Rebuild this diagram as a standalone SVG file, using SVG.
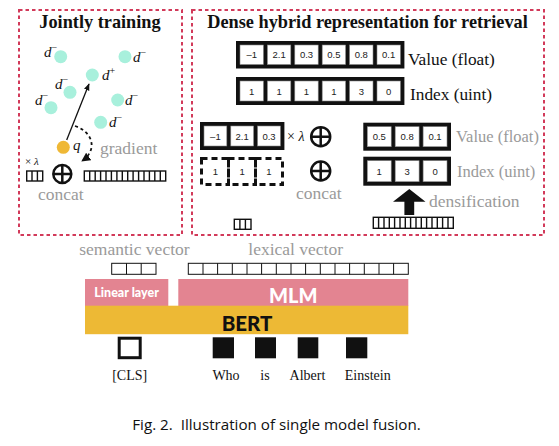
<svg xmlns="http://www.w3.org/2000/svg" width="559" height="446" viewBox="0 0 559 446">
<style>
.panel{fill:none;stroke:#d23a5a;stroke-width:2;stroke-dasharray:3.5,3}
.title{font-family:"Liberation Serif",serif;font-weight:bold;font-size:18.3px;fill:#111}
.lbl{font-family:"Liberation Serif",serif;font-size:17.3px;fill:#111}
.gray{font-family:"Liberation Serif",serif;font-size:17.5px;fill:#9a9a9a}
.gray2{font-family:"Liberation Serif",serif;font-size:16.5px;fill:#9a9a9a}
.dl{font-family:"Liberation Serif",serif;font-style:italic;font-size:15px;fill:#111}
.sup{font-size:10px;font-style:normal}
.num{font-family:"Liberation Sans",sans-serif;font-size:9.5px;fill:#222;text-anchor:middle}
.cellbg{fill:#111}
.cell{fill:#fff;stroke:#888;stroke-width:0.6}
.vec{fill:#fff;stroke:#111;stroke-width:1.4}
.vecl{stroke:#111;stroke-width:1.4;fill:none}
.vec2{fill:#fff;stroke:#111;stroke-width:1}
.vecl2{stroke:#111;stroke-width:1;fill:none}
.doc{fill:#a8f0dc}
.plus{fill:none;stroke:#111;stroke-width:2.5}
.tok{font-family:"Liberation Serif",serif;font-size:14px;fill:#111;text-anchor:middle}
</style>
<defs>
<marker id="ah" viewBox="0 0 10 10" refX="9" refY="5" markerWidth="7" markerHeight="7" orient="auto-start-reverse" markerUnits="userSpaceOnUse">
<path d="M0,1 L10,5 L0,9 z" fill="#111"/>
</marker>
<marker id="ah2" viewBox="0 0 10 10" refX="9" refY="5" markerWidth="9" markerHeight="9" orient="auto" markerUnits="userSpaceOnUse">
<path d="M0,0 L10,5 L0,10 z" fill="#111"/>
</marker>
</defs>
<rect width="559" height="446" fill="#fff"/>

<g id="panel-joint">
<rect class="panel" x="19" y="10" width="163" height="225"/>
<text class="title" x="100" y="28" text-anchor="middle">Jointly training</text>
<circle class="doc" cx="60.7" cy="56.7" r="6.5"/>
<text class="dl" x="44" y="57">d<tspan class="sup" dy="-6">−</tspan></text>
<circle class="doc" cx="125" cy="56.7" r="6.5"/>
<text class="dl" x="133" y="62">d<tspan class="sup" dy="-6">−</tspan></text>
<circle class="doc" cx="92.3" cy="75" r="6.5"/>
<text class="dl" x="102" y="80">d<tspan class="sup" dy="-6">+</tspan></text>
<circle class="doc" cx="70" cy="92.3" r="6.5"/>
<text class="dl" x="55" y="89">d<tspan class="sup" dy="-6">−</tspan></text>
<circle class="doc" cx="51" cy="107.7" r="6.5"/>
<text class="dl" x="35" y="105">d<tspan class="sup" dy="-6">−</tspan></text>
<circle class="doc" cx="117.7" cy="100" r="6.5"/>
<text class="dl" x="125" y="105">d<tspan class="sup" dy="-6">−</tspan></text>
<circle class="doc" cx="100.7" cy="122.3" r="6.5"/>
<text class="dl" x="109" y="127">d<tspan class="sup" dy="-6">−</tspan></text>
<circle cx="63.3" cy="147.3" r="6.5" fill="#efb836"/>
<text class="dl" x="73" y="150">q</text>
<text class="gray" x="100" y="154">gradient</text>
<text x="25" y="165" font-family="Liberation Serif,serif" font-size="11" fill="#111">× <tspan font-style="italic">λ</tspan></text>
<rect class="vec" x="26.7" y="171" width="16" height="10"/>
<path class="vecl" d="M32,171V181M37.4,171V181"/>
<circle class="plus" cx="62.3" cy="174" r="9"/>
<path class="plus" d="M53.3,174H71.3M62.3,165V183"/>
<rect class="vec" x="84.3" y="171" width="81.4" height="10"/>
<path class="vecl" d="M89.7,171V181M95.2,171V181M100.6,171V181M106,171V181M111.4,171V181M116.9,171V181M122.3,171V181M127.7,171V181M133.1,171V181M138.6,171V181M144,171V181M149.4,171V181M154.8,171V181M160.3,171V181"/>
<text class="gray" x="38" y="200">concat</text>
</g>

<g id="panel-dense">
<rect class="panel" x="192" y="10" width="352" height="225"/>
<text class="title" x="367.5" y="28" text-anchor="middle">Dense hybrid representation for retrieval</text>
<g id="value-row">
<rect class="cellbg" x="236" y="41" width="168.4" height="27.5"/>
<rect class="cell" x="240" y="45" width="23.4" height="19.5"/>
<rect class="cell" x="267.4" y="45" width="23.4" height="19.5"/>
<rect class="cell" x="294.8" y="45" width="23.4" height="19.5"/>
<rect class="cell" x="322.2" y="45" width="23.4" height="19.5"/>
<rect class="cell" x="349.6" y="45" width="23.4" height="19.5"/>
<rect class="cell" x="377" y="45" width="23.4" height="19.5"/>
<text class="num" x="251.7" y="58.3">–1</text>
<text class="num" x="279.1" y="58.3">2.1</text>
<text class="num" x="306.5" y="58.3">0.3</text>
<text class="num" x="333.9" y="58.3">0.5</text>
<text class="num" x="361.3" y="58.3">0.8</text>
<text class="num" x="388.7" y="58.3">0.1</text>
<text class="lbl" x="408" y="65">Value (float)</text>
</g>
<g id="index-row">
<rect class="cellbg" x="236" y="77" width="168.4" height="28"/>
<rect class="cell" x="240" y="81" width="23.4" height="20"/>
<rect class="cell" x="267.4" y="81" width="23.4" height="20"/>
<rect class="cell" x="294.8" y="81" width="23.4" height="20"/>
<rect class="cell" x="322.2" y="81" width="23.4" height="20"/>
<rect class="cell" x="349.6" y="81" width="23.4" height="20"/>
<rect class="cell" x="377" y="81" width="23.4" height="20"/>
<text class="num" x="251.7" y="94.5">1</text>
<text class="num" x="279.1" y="94.5">1</text>
<text class="num" x="306.5" y="94.5">1</text>
<text class="num" x="333.9" y="94.5">1</text>
<text class="num" x="361.3" y="94.5">3</text>
<text class="num" x="388.7" y="94.5">0</text>
<text class="lbl" x="410" y="100">Index (uint)</text>
</g>
<g id="semantic-part">
<rect class="cellbg" x="200" y="122" width="84.4" height="28"/>
<rect class="cell" x="204" y="126" width="22.8" height="20"/>
<rect class="cell" x="230.8" y="126" width="22.8" height="20"/>
<rect class="cell" x="257.6" y="126" width="22.8" height="20"/>
<text class="num" x="215.4" y="139.5">–1</text>
<text class="num" x="242.2" y="139.5">2.1</text>
<text class="num" x="269" y="139.5">0.3</text>
<text x="287" y="141" font-family="Liberation Serif,serif" font-size="14" fill="#111">× <tspan font-style="italic">λ</tspan></text>
<g fill="none" stroke="#111" stroke-width="3" stroke-dasharray="6,4">
<rect x="201.5" y="158.5" width="27" height="26"/>
<rect x="228.5" y="158.5" width="27" height="26"/>
<rect x="255.5" y="158.5" width="27" height="26"/>
</g>
<text class="num" x="215.4" y="175">1</text>
<text class="num" x="242.2" y="175">1</text>
<text class="num" x="269" y="175">1</text>
<rect class="vec" x="234.3" y="219.3" width="16.7" height="10"/>
<path class="vecl" d="M239.9,219.3V229.3M245.4,219.3V229.3"/>
</g>
<circle class="plus" cx="320.7" cy="136.7" r="9.5"/>
<path class="plus" d="M311.2,136.7H330.2M320.7,127.2V146.2"/>
<circle class="plus" cx="320.7" cy="171" r="9.5"/>
<path class="plus" d="M311.2,171H330.2M320.7,161.5V180.5"/>
<text class="gray" x="296" y="199">concat</text>
<g id="lexical-part">
<rect class="cellbg" x="363.3" y="122.7" width="87.7" height="28"/>
<rect class="cell" x="367.3" y="126.7" width="23.9" height="20"/>
<rect class="cell" x="395.2" y="126.7" width="23.9" height="20"/>
<rect class="cell" x="423.1" y="126.7" width="23.9" height="20"/>
<text class="num" x="379.25" y="140">0.5</text>
<text class="num" x="407.15" y="140">0.8</text>
<text class="num" x="435.05" y="140">0.1</text>
<text class="gray2" x="456" y="142">Value (float)</text>
<rect class="cellbg" x="363.3" y="156.7" width="87.7" height="29"/>
<rect class="cell" x="367.3" y="160.7" width="23.9" height="21"/>
<rect class="cell" x="395.2" y="160.7" width="23.9" height="21"/>
<rect class="cell" x="423.1" y="160.7" width="23.9" height="21"/>
<text class="num" x="379.25" y="174.6">1</text>
<text class="num" x="407.15" y="174.6">3</text>
<text class="num" x="435.05" y="174.6">0</text>
<text class="gray2" x="457" y="177">Index (uint)</text>
<path d="M409.3,189 L425.5,201.7 L414.2,201.7 L414.2,215 L404.4,215 L404.4,201.7 L393,201.7 Z" fill="#111"/>
<text class="gray" x="429" y="207">densification</text>
<rect class="vec" x="373.3" y="217.3" width="80" height="11"/>
<path class="vecl" d="M378.6,217.3V228.3M384,217.3V228.3M389.3,217.3V228.3M394.6,217.3V228.3M400,217.3V228.3M405.3,217.3V228.3M410.6,217.3V228.3M416,217.3V228.3M421.3,217.3V228.3M426.6,217.3V228.3M432,217.3V228.3M437.3,217.3V228.3M442.6,217.3V228.3M448,217.3V228.3"/>
</g>
</g>

<g id="model">
<text class="gray" x="79.3" y="254.5">semantic vector</text>
<text class="gray" x="248.3" y="255">lexical vector</text>
<rect class="vec2" x="111.7" y="263.3" width="44.3" height="11"/>
<path class="vecl2" d="M126.5,263.3V274.3M141.2,263.3V274.3"/>
<rect class="vec2" x="188.3" y="263.3" width="220" height="11"/>
<path class="vecl2" d="M203,263.3V274.3M217.6,263.3V274.3M232.3,263.3V274.3M247,263.3V274.3M261.6,263.3V274.3M276.3,263.3V274.3M291,263.3V274.3M305.6,263.3V274.3M320.3,263.3V274.3M335,263.3V274.3M349.6,263.3V274.3M364.3,263.3V274.3M379,263.3V274.3M393.6,263.3V274.3"/>
<g id="linear-layer">
<rect x="85" y="279" width="83.3" height="27" fill="#e38491"/>
<text x="126.6" y="297" text-anchor="middle" font-family="Lato,sans-serif" font-weight="900" font-size="12.5" fill="#fff">Linear layer</text>
</g>
<g id="mlm">
<rect x="178.3" y="279" width="230" height="27" fill="#e38491"/>
<text x="293.3" y="302.5" text-anchor="middle" font-family="Lato,sans-serif" font-weight="900" font-size="20" fill="#fff">MLM</text>
</g>
<g id="bert">
<rect x="85" y="305.7" width="323.3" height="28.5" fill="#edb935"/>
<text x="247" y="331" text-anchor="middle" font-family="Lato,sans-serif" font-weight="900" font-size="20.5" fill="#111">BERT</text>
</g>
<g id="tokens">
<rect x="119.2" y="338.2" width="21" height="19.5" fill="#fff" stroke="#111" stroke-width="3"/>
<rect x="212.7" y="337.3" width="21.3" height="21" fill="#111"/>
<rect x="255" y="337.3" width="21" height="21" fill="#111"/>
<rect x="297.7" y="337.3" width="20.6" height="21" fill="#111"/>
<rect x="346" y="337.3" width="21.3" height="21" fill="#111"/>
<text class="tok" x="129.7" y="380">[CLS]</text>
<text class="tok" x="226" y="380">Who</text>
<text class="tok" x="265" y="380">is</text>
<text class="tok" x="307.5" y="380">Albert</text>
<text class="tok" x="367.7" y="380">Einstein</text>
</g>
</g>

<g id="connectors">
<line x1="66.7" y1="140" x2="89" y2="84" stroke="#111" stroke-width="1.3" marker-end="url(#ah)"/>
<path d="M75,126 C93,132 98,150 82,161" fill="none" stroke="#111" stroke-width="1.8" stroke-dasharray="3,3" marker-end="url(#ah2)"/>
</g>

<text x="276.5" y="430" text-anchor="middle" font-family="Open Sans,sans-serif" font-size="15.2" fill="#111" xml:space="preserve" style="white-space:pre">Fig. 2.  Illustration of single model fusion.</text>
</svg>
